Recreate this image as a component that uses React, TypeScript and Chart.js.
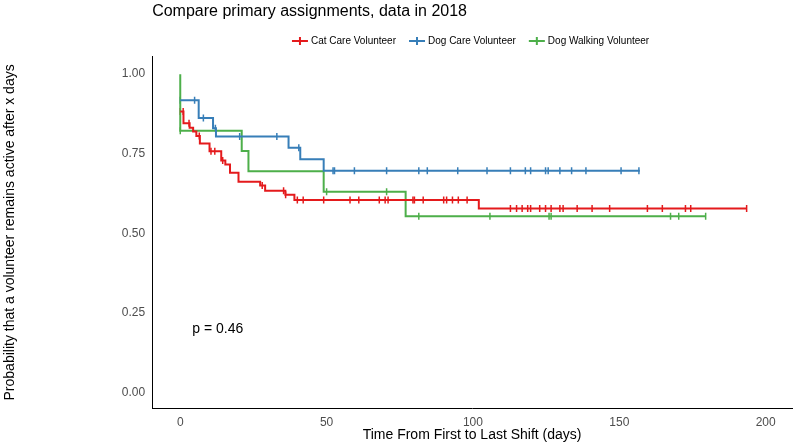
import React, { useEffect, useRef } from 'react';
import Chart from 'chart.js/auto';

// event times (days) and survival after each step
const catTimes = [0, 1.1, 3.2, 4.4, 5.5, 6.7, 10, 14, 15.4, 17, 19.9, 27.3, 29, 35.9, 39, 102, 193.5];
const catSurv = [0.883, 0.846, 0.832, 0.82, 0.806, 0.782, 0.758, 0.729, 0.716, 0.69, 0.662, 0.65, 0.634, 0.621, 0.605, 0.578, 0.578];
const catCensored = [0, 1, 3, 6.5, 10.5, 11.8, 14.5, 28, 35.3, 36, 40, 42, 49, 58, 61, 68, 70, 71, 79.5, 80, 83, 90, 91, 93, 95, 98,
  112.8, 114.9, 116.8, 118.7, 119.7, 122.8, 124.8, 126.7, 129.7, 130.8, 135.6, 140.7, 146.7, 159.6, 164.7, 172.6, 174.4, 193.5];

const dogTimes = [0, 6.3, 11.2, 12.2, 37, 41, 49, 157];
const dogSurv = [0.918, 0.862, 0.83, 0.804, 0.769, 0.733, 0.697, 0.697];
const dogCensored = [0, 4.9, 7.9, 12, 20.3, 33, 40.5, 52.2, 52.7, 59.5, 70.5, 81.5, 84.4, 94.8, 104.8, 112.8, 117.9, 119.7,
  124.8, 125.7, 129.7, 133.7, 138.6, 150.6, 156.7];

const walkTimes = [0, 0, 21, 23.3, 49, 77, 179.5];
const walkSurv = [1.0, 0.822, 0.759, 0.695, 0.631, 0.554, 0.554];
const walkCensored = [0, 50, 70.5, 81.5, 105.8, 126, 126.7, 167.5, 170.3, 179.5];

const yTicks = [0, 0.25, 0.5, 0.75, 1.0];
const xTicks = [0, 50, 100, 150, 200];
const pValue = 'p = 0.46';
const titleText = 'Compare primary assignments, data in 2018';

const survAt = (times: number[], surv: number[], t: number) => {
  let s = surv[0];
  for (let i = 0; i < times.length; i++) if (times[i] <= t) s = surv[i];
  return s;
};

const font = '"Liberation Sans", Arial, sans-serif';

const App: React.FC = () => {
  const chartRef = useRef<HTMLCanvasElement>(null);

  useEffect(() => {
    if (!chartRef.current) return;
    const groups = [
      { label: 'Cat Care Volunteer', color: '#e41a1c', times: catTimes, surv: catSurv, cens: catCensored },
      { label: 'Dog Care Volunteer', color: '#377eb8', times: dogTimes, surv: dogSurv, cens: dogCensored },
      { label: 'Dog Walking Volunteer', color: '#4daf4a', times: walkTimes, surv: walkSurv, cens: walkCensored },
    ];
    const datasets: any[] = [];
    groups.forEach((g) => {
      datasets.push({
        type: 'line',
        label: g.label,
        data: g.times.map((t, i) => ({ x: t, y: g.surv[i] })),
        borderColor: g.color,
        backgroundColor: g.color,
        borderWidth: 2,
        stepped: 'before',
        pointRadius: 0,
        fill: false,
      });
    });
    groups.forEach((g) => {
      datasets.push({
        type: 'scatter',
        label: g.label + ' censored',
        data: g.cens.map((t) => ({ x: t, y: survAt(g.times, g.surv, t) })),
        borderColor: g.color,
        backgroundColor: g.color,
        pointStyle: 'line',
        rotation: 90,
        pointRadius: 3.5,
        borderWidth: 1.5,
      });
    });

    // title, legend and p-value placed relative to the plot area
    const overlay = {
      id: 'overlay',
      afterDraw(chart: any) {
        const { ctx, scales, chartArea } = chart;
        ctx.save();
        ctx.fillStyle = '#000';
        ctx.textBaseline = 'middle';
        ctx.font = '16px ' + font;
        ctx.fillText(titleText, chartArea.left, 12);

        ctx.font = '10px ' + font;
        const items = groups.map((g) => ({ g, w: 22 + ctx.measureText(g.label).width }));
        const gap = 10;
        const total = items.reduce((s, it) => s + it.w, 0) + gap * (items.length - 1);
        let x = (chartArea.left + chartArea.right) / 2 - total / 2;
        const y = 41;
        items.forEach(({ g, w }) => {
          ctx.strokeStyle = g.color;
          ctx.lineWidth = 2;
          ctx.beginPath();
          ctx.moveTo(x, y); ctx.lineTo(x + 16, y);
          ctx.moveTo(x + 8, y - 4); ctx.lineTo(x + 8, y + 4);
          ctx.stroke();
          ctx.fillStyle = '#000';
          ctx.fillText(g.label, x + 19, y);
          x += w + gap;
        });

        ctx.font = '14px ' + font;
        ctx.fillText(pValue, scales.x.getPixelForValue(4.1), scales.y.getPixelForValue(0.2));
        ctx.restore();
      },
    };

    const chart = new Chart(chartRef.current, {
      type: 'line',
      data: { datasets },
      plugins: [overlay],
      options: {
        animation: false,
        responsive: false,
        layout: { padding: { left: 0, right: 7, top: 56, bottom: 2 } },
        plugins: {
          title: { display: false },
          legend: { display: false },
          tooltip: { enabled: false },
        },
        scales: {
          x: {
            type: 'linear',
            min: -9.6,
            max: 209,
            afterBuildTicks: (axis: any) => { axis.ticks = xTicks.map((v) => ({ value: v })); },
            grid: { display: false, drawTicks: true, tickLength: 4, color: '#333' },
            border: { display: true, color: '#000', width: 1 },
            ticks: { color: '#4d4d4d', font: { family: font, size: 12 } },
            title: { display: true, text: 'Time From First to Last Shift (days)', color: '#000', font: { family: font, size: 14 }, padding: { top: -6, bottom: 0 } },
          },
          y: {
            type: 'linear',
            min: -0.051,
            max: 1.057,
            afterBuildTicks: (axis: any) => { axis.ticks = yTicks.map((v) => ({ value: v })); },
            grid: { display: false, drawTicks: true, tickLength: 4, color: '#333' },
            border: { display: true, color: '#000', width: 1 },
            ticks: { color: '#4d4d4d', font: { family: font, size: 12 }, callback: (v: any) => Number(v).toFixed(2) },
            title: { display: true, text: 'Probability that a volunteer remains active after x days', color: '#000', font: { family: font, size: 14 }, padding: { top: 2, bottom: 100 } },
          },
        },
      },
    });

    return () => {
      chart.destroy();
    };
  }, []);

  return (
    <div style={{ position: 'absolute', left: 0, top: 0, width: 799, height: 446, background: '#fff' }}>
      <canvas ref={chartRef} width={799} height={446} />
    </div>
  );
};

export default App;
